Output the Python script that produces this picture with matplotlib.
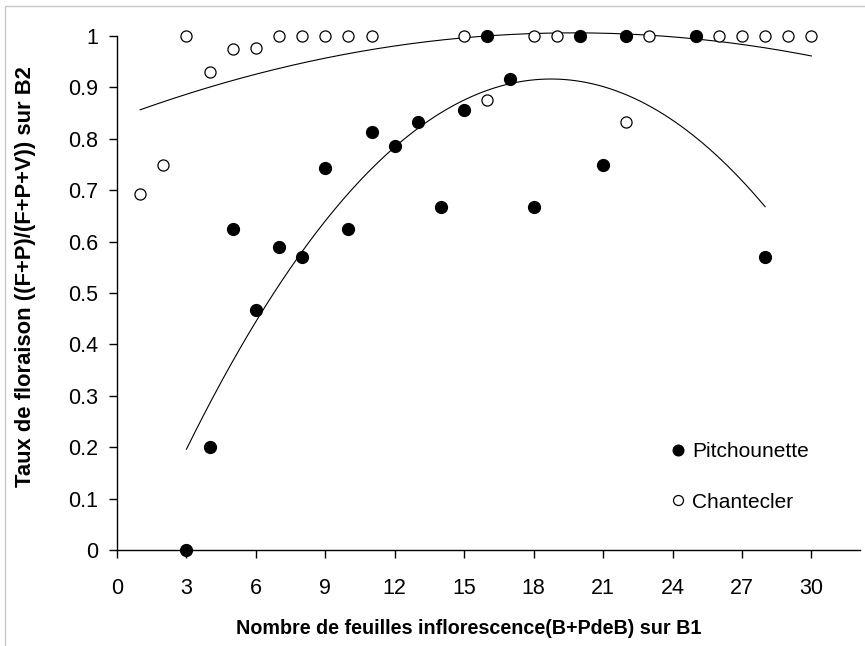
import numpy as np
import matplotlib
matplotlib.use('Agg')
import matplotlib.pyplot as plt
from matplotlib.lines import Line2D

plt.rcParams['font.family'] = ['Liberation Sans', 'DejaVu Sans']

# Pitchounette (filled markers)
pitch_x = [3, 4, 5, 6, 7, 8, 9, 10, 11, 12, 13, 14, 15, 16, 17, 18, 20, 21, 22, 25, 28]
pitch_y = [0.0, 0.2, 0.625, 0.467, 0.59, 0.571, 0.743, 0.625, 0.813, 0.786, 0.833,
           0.667, 0.857, 1.0, 0.917, 0.667, 1.0, 0.75, 1.0, 1.0, 0.571]

# Chantecler (open markers)
chant_x = [1, 2, 3, 4, 5, 6, 7, 8, 9, 10, 11, 15, 16, 18, 19, 22, 23, 26, 27, 28, 29, 30]
chant_y = [0.692, 0.75, 1.0, 0.929, 0.974, 0.976, 1.0, 1.0, 1.0, 1.0, 1.0, 1.0,
           0.875, 1.0, 1.0, 0.833, 1.0, 1.0, 1.0, 1.0, 1.0, 1.0]

x_ticks = list(range(0, 31, 3))
y_ticks = [0, 0.1, 0.2, 0.3, 0.4, 0.5, 0.6, 0.7, 0.8, 0.9, 1]
y_labels = ['0', '0.1', '0.2', '0.3', '0.4', '0.5', '0.6', '0.7', '0.8', '0.9', '1']

fig = plt.figure(figsize=(8.65, 6.46), dpi=100)
ax = fig.add_axes([117 / 865, 96 / 646, (860 - 117) / 865, (550 - 36) / 646])

# second-order trend lines fitted on each series
for xs, ys in [(pitch_x, pitch_y), (chant_x, chant_y)]:
    coef = np.polyfit(xs, ys, 2)
    xx = np.linspace(min(xs), max(xs), 200)
    ax.plot(xx, np.polyval(coef, xx), color='black', lw=0.8, clip_on=False)

ax.plot(pitch_x, pitch_y, 'o', ms=8.5, mfc='black', mec='black', ls='none',
        clip_on=False, label='Pitchounette', zorder=3)
ax.plot(chant_x, chant_y, 'o', ms=8, mfc='white', mec='black', mew=0.9, ls='none',
        clip_on=False, label='Chantecler', zorder=3)

ax.set_xlim(0, 32.1)
ax.set_ylim(0, 1)
ax.spines['top'].set_visible(False)
ax.spines['right'].set_visible(False)
for s in ['left', 'bottom']:
    ax.spines[s].set_linewidth(1.0)
ax.set_xticks(x_ticks)
ax.set_yticks(y_ticks)
ax.set_yticklabels(y_labels)
ax.tick_params(axis='x', direction='out', length=5.5, width=1.0, pad=15, labelsize=15.5)
ax.tick_params(axis='y', direction='out', length=5.5, width=1.0, pad=8, labelsize=15.5)

ax.set_xlabel('Nombre de feuilles inflorescence(B+PdeB) sur B1', fontsize=14.2,
              fontweight='bold')
ax.set_ylabel('Taux de floraison ((F+P)/(F+P+V)) sur B2', fontsize=15.8,
              fontweight='bold')
ax.xaxis.set_label_coords(0.473, -0.135)
ax.yaxis.set_label_coords(-0.1085, 0.532)

leg = ax.legend(loc='upper left', bbox_to_anchor=(0.721, 0.246), frameon=False,
                fontsize=15, handlelength=0.6, handletextpad=0.4, labelspacing=1.5,
                markerscale=0.9)

# light frame around the picture
fig.add_artist(Line2D([5 / 865, 5 / 865, 1], [0, 1 - 6 / 646, 1 - 6 / 646],
                      color='#c8c8c8', lw=1.0, transform=fig.transFigure))

fig.savefig('out.png', dpi=100)
